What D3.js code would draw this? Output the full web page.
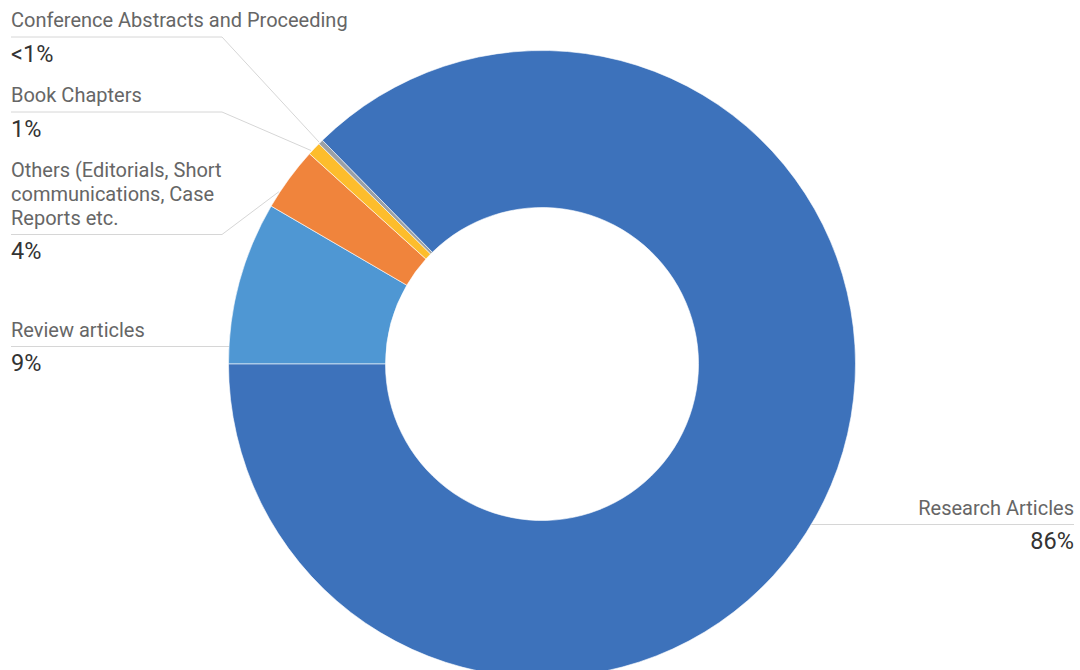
<!DOCTYPE html>
<html>
<head>
<meta charset="utf-8">
<script src="https://cdn.jsdelivr.net/npm/d3@7"></script>
<style>
  body { margin: 0; background: #fff; }
  text { font-family: Roboto, "Noto Sans", sans-serif; }
</style>
</head>
<body>
<div id="chart"></div>
<script>
// Data, in drawing order (clockwise from 9 o'clock)
const categories = ["Review articles", "Others (Editorials, Short communications, Case Reports etc.", "Book Chapters", "Conference Abstracts and Proceeding", "Research Articles"];
const nameLines = [["Review articles"], ["Others (Editorials, Short", "communications, Case", "Reports etc."], ["Book Chapters"], ["Conference Abstracts and Proceeding"], ["Research Articles"]];
const values = [8.4, 3.3, 0.7, 0.25, 87.35];
const pctLabels = ["9%", "4%", "1%", "<1%", "86%"];
const colors = ["#4f97d3", "#f0843c", "#fdbd2c", "#9aa0a6", "#3d72bb"];

// Layout
const width = 1080, height = 670;
const cx = 542, cy = 364, outerR = 313.5, innerR = 156.5;
const leftX = 11, elbowX = 222, rightX = 1074;
const lineY = [346.5, 234.5, 112, 37, 524.5];   // y of each label's underline

const svg = d3.select("#chart").append("svg")
    .attr("width", width)
    .attr("height", height);

const pie = d3.pie()
    .sort(null)
    .value(d => d)
    .startAngle(-Math.PI / 2)
    .endAngle(3 * Math.PI / 2);

const arcs = pie(values);

const arc = d3.arc().innerRadius(innerR).outerRadius(outerR);

const g = svg.append("g").attr("transform", `translate(${cx},${cy})`);

g.selectAll("path")
  .data(arcs)
  .join("path")
    .attr("d", arc)
    .attr("fill", (d, i) => colors[i])
    .attr("stroke", "#fff")
    .attr("stroke-width", 0.6);

// point on the outer ring for a d3 angle (0 = 12 o'clock, clockwise)
function ringPoint(a, r) {
  return [cx + r * Math.sin(a), cy - r * Math.cos(a)];
}

const labels = svg.append("g");

arcs.forEach((d, i) => {
  const ly = lineY[i];
  const isRight = i === 4;
  let pts;
  // where a horizontal line at ly meets the ring
  const dy = ly - cy;
  const hx = Math.sqrt(outerR * outerR - dy * dy);
  if (isRight) {
    pts = [[cx + hx, ly], [rightX, ly]];
  } else {
    const aHit = Math.atan2(-hx, -dy); // left side
    let a = aHit < 0 ? aHit : aHit - 2 * Math.PI;
    if (a >= d.startAngle - 1e-6 && a <= d.endAngle + 1e-6) {
      pts = [[leftX, ly], [cx - hx, ly]];
    } else {
      const aa = d.startAngle + 0.25 * (d.endAngle - d.startAngle);
      pts = [[leftX, ly], [elbowX, ly], ringPoint(aa, outerR + 1)];
    }
  }
  labels.append("path")
      .attr("d", d3.line()(pts))
      .attr("fill", "none")
      .attr("stroke", "#d6d6d6")
      .attr("stroke-width", 1);

  const tx = isRight ? rightX : leftX;
  const anchor = isRight ? "end" : "start";
  const lines = nameLines[i];
  lines.forEach((t, j) => {
    labels.append("text")
        .attr("x", tx)
        .attr("y", ly - 10 - (lines.length - 1 - j) * 23.7)
        .attr("text-anchor", anchor)
        .attr("fill", "#666666")
        .style("font-size", "20px")
        .text(t);
  });
  labels.append("text")
      .attr("x", tx)
      .attr("y", ly + 24.5)
      .attr("text-anchor", anchor)
      .attr("fill", "#333333")
      .style("font-size", "23.5px")
      .text(pctLabels[i]);
});
</script>
</body>
</html>
